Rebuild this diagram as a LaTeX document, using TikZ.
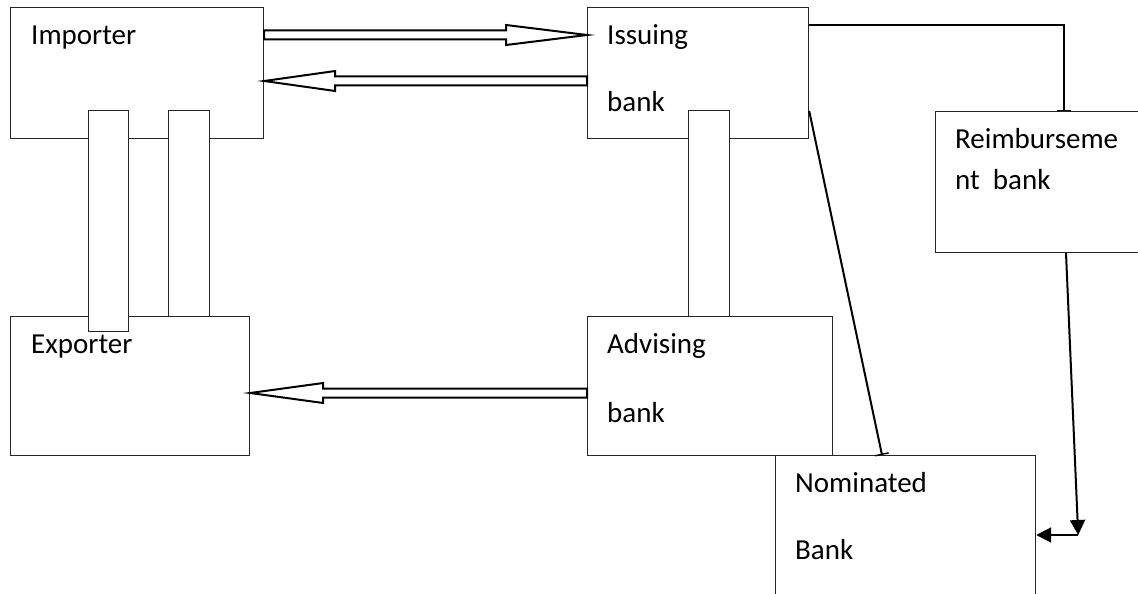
\documentclass[tikz,border=0pt]{standalone}
\usepackage{fontspec}
\setmainfont{Carlito}
\usetikzlibrary{calc,arrows.meta}
\tikzset{
  box/.style={draw=black!85, line width=1.2pt, fill=white, inner sep=0pt, anchor=north west},
  lbl/.style={anchor=base west, inner sep=0pt, font=\fontsize{29}{34}\selectfont},
  blk/.style={draw=black, line width=2pt, fill=white, line join=miter},
  conn/.style={draw=black, line width=2pt},
  tbar/.style={-{Bar[width=14pt,line width=1.4pt]}},
  tri/.style={-{Triangle[length=15pt,width=15pt]}}
}
\newcommand\barrow[3]{%
  \draw[blk] let \p1=(#1), \p2=(#2), \n1={\x2-(#3)} in
    ({\x1},{\y1+4.5}) -- ({\n1},{\y1+4.5}) -- ({\n1},{\y1+10}) -- ({\x2},{\y1})
    -- ({\n1},{\y1-10}) -- ({\n1},{\y1-4.5}) -- ({\x1},{\y1-4.5}) -- cycle;}
\begin{document}
\begin{tikzpicture}[x=1pt,y=-1pt]
\clip (0,0) rectangle (1138,594);
\fill[white] (0,0) rectangle (1138,594);
% boxes
\node[box, minimum width=253pt, minimum height=131pt] (imp) at (10,7) {};
\node[box, minimum width=221pt, minimum height=131pt] (iss) at (587,7) {};
\node[box, minimum width=239pt, minimum height=139pt] (exp) at (10,316) {};
\node[box, minimum width=245pt, minimum height=139pt] (adv) at (587,316) {};
\node[box, minimum width=215pt, minimum height=141pt] (reim) at (935,111) {};
\node[box, minimum width=260pt, minimum height=150pt] (nom) at (775,455) {};
% vertical bars
\node[box, minimum width=40pt, minimum height=221pt] (bar1) at (88,110) {};
\node[box, minimum width=41pt, minimum height=206pt] (bar2) at (168,110) {};
\node[box, minimum width=41pt, minimum height=206pt] (bar3) at (688,110) {};
% labels
\node[lbl] (impT) at (31,45) {Importer};
\node[lbl] (issT1) at (607,45) {Issuing};
\node[lbl] (issT2) at (607,111) {bank};
\node[lbl] (reimT1) at (955,148) {Reimburseme};
\node[lbl] (reimT2) at (955,189) {nt\ \ bank};
\node[lbl] (expT) at (31,353) {Exporter};
\node[lbl] (advT1) at (607,353) {Advising};
\node[lbl] (advT2) at (607,422) {bank};
\node[lbl] (nomT1) at (795,492) {Nominated};
\node[lbl] (nomT2) at (795,559) {Bank};
% block arrows
\barrow{$(imp.north east)+(0,28)$}{$(iss.north west)+(0,28)$}{81}
\barrow{$(iss.north west)+(0,74)$}{$(imp.north east)+(0,74)$}{-71}
\barrow{$(adv.north west)+(0,77)$}{$(exp.north east)+(0,77)$}{-73}
% connectors
\draw[conn, tbar] ($(iss.north east)+(0,18)$) -| ($(reim.north west)+(129,0)$);
\draw[conn, tbar] ($(iss.north east)+(0,104)$) -- ($(nom.north west)+(107,0)$);
\coordinate (corner) at ($(nom.north east)+(42,80)$);
\draw[conn, tri] ($(reim.south west)+(131,0)$) -- (corner);
\draw[conn, tri] (corner) -- (nom.east |- corner);
\end{tikzpicture}
\end{document}
